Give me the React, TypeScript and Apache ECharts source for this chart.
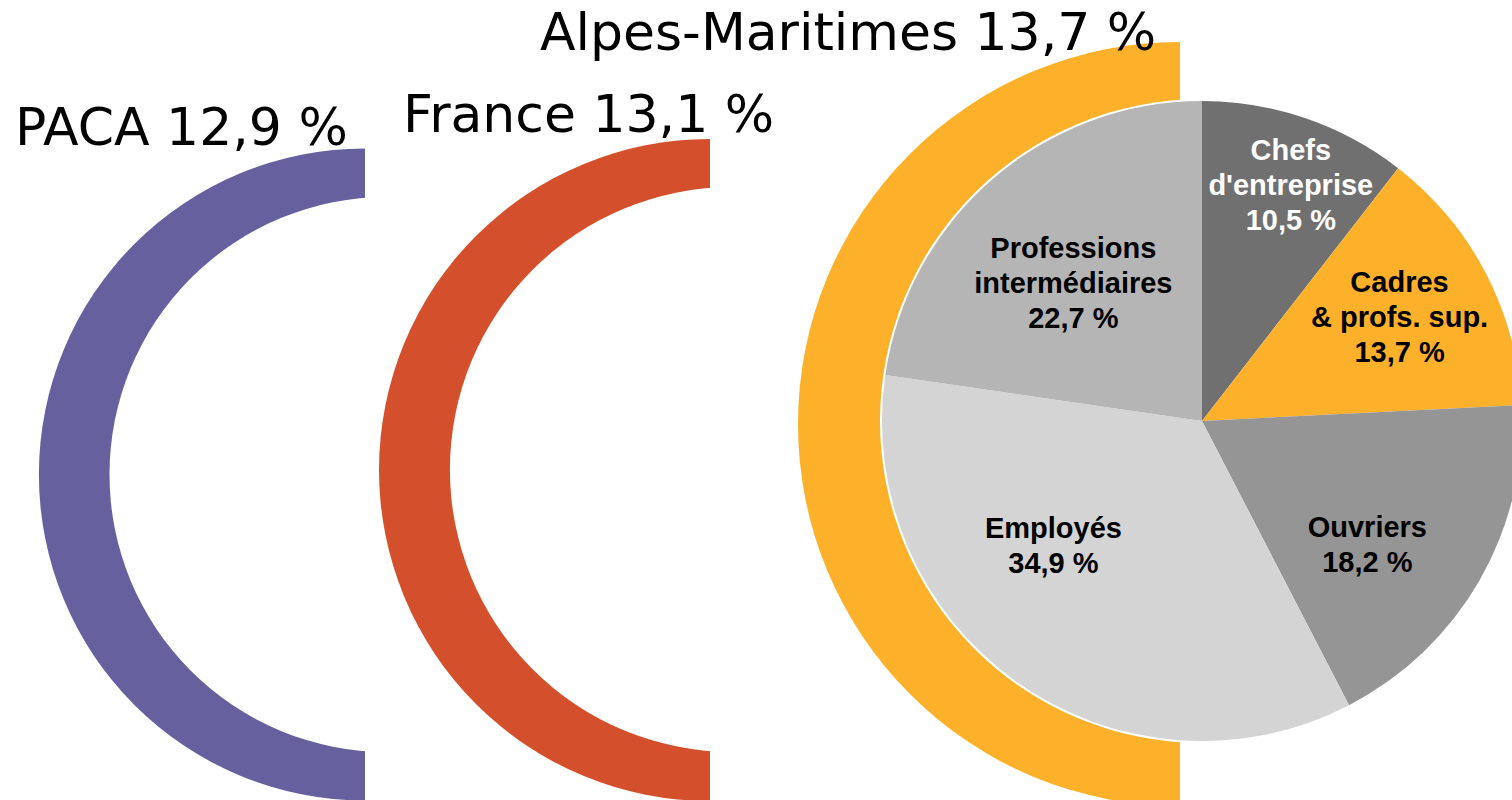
import React, { useEffect, useRef } from "react";
import * as echarts from "echarts";

// Pie: socio-professional categories, Alpes-Maritimes
const categories = ["Chefs\nd'entreprise", "Cadres\n& profs. sup.", "Ouvriers", "Employés", "Professions\nintermédiaires"];
const shares = [10.5, 13.7, 18.2, 34.9, 22.7];
const sliceColors = ["#707070", "#FDB12A", "#959595", "#D4D4D4", "#B5B5B5"];
const labelColors = ["#ffffff", "#000000", "#000000", "#000000", "#000000"];

// Half rings: share of "cadres" per territory
const regions = ["PACA", "France", "Alpes-Maritimes"];
const cadresShare = [12.9, 13.1, 13.7];
const regionColors = ["#66609E", "#D4502C", "#FDB12A"];
const halfRing = [50, 50];

const fmt = (v: number) => v.toFixed(1).replace(".", ",") + " %";

export default function App() {
  const ref = useRef<HTMLDivElement>(null);
  useEffect(() => {
    document.body.style.margin = "0";
    const chart = echarts.init(ref.current!, null, { renderer: "svg" });

    const ringGeom = [
      { c: [365, 474.5], r: 326, ic: [387, 474.5], ir: 277.5 },
      { c: [710, 470], r: 331, ic: [732.5, 469.5], ir: 282.5 },
      { c: [1180, 424], r: 382, ic: [1202, 421], ir: 322 },
    ];
    const titlePos = [
      [15, 127],
      [403, 114],
      [540, 32],
    ];
    const labelOffsets = [
      [36, -82],
      [53, -29],
      [24, 42],
      [-54, -8],
      [-22, -15],
    ];

    const series: any[] = [];
    let z = 1;
    regions.forEach((name, i) => {
      const g = ringGeom[i];
      series.push({
        type: "pie",
        name: name,
        silent: true,
        z: z++,
        center: g.c,
        radius: [0, g.r],
        startAngle: 90,
        clockwise: true,
        label: { show: false },
        labelLine: { show: false },
        emphasis: { disabled: true },
        data: halfRing.map((v, k) => ({
          value: v,
          name: name + k,
          itemStyle: { color: k === 0 ? "rgba(0,0,0,0)" : regionColors[i] },
        })),
      });
      series.push({
        type: "pie",
        silent: true,
        z: z++,
        center: g.ic,
        radius: [0, g.ir],
        startAngle: 90,
        label: { show: false },
        labelLine: { show: false },
        emphasis: { disabled: true },
        data: halfRing.map((v, k) => ({
          value: v,
          name: name + "w" + k,
          itemStyle: { color: i === 2 ? "#ffffff" : k === 0 ? "rgba(0,0,0,0)" : "#ffffff" },
        })),
      });
    });

    series.push({
      type: "pie",
      name: "Alpes-Maritimes",
      silent: true,
      z: z++,
      center: [1202, 421],
      radius: [0, 320],
      startAngle: 90,
      clockwise: true,
      emphasis: { disabled: true },
      labelLine: { show: false },
      label: {
        show: true,
        position: "inside",
        fontFamily: "Liberation Sans, Arial, sans-serif",
        fontWeight: "bold",
        fontSize: 29,
        lineHeight: 35,
        align: "center",
        formatter: (p: any) => p.name + "\n" + fmt(p.value),
      },
      labelLayout: (p: any) => {
        const o = labelOffsets[p.dataIndex];
        return { dx: o[0], dy: o[1] };
      },
      data: categories.map((c, i) => ({
        name: c,
        value: shares[i],
        itemStyle: { color: sliceColors[i] },
        label: { color: labelColors[i] },
      })),
    });

    chart.setOption({
      animation: false,
      backgroundColor: "#ffffff",
      series,
      graphic: regions.map((name, i) => ({
        type: "text",
        x: titlePos[i][0],
        y: titlePos[i][1],
        z: 100,
        style: {
          text: name + " " + fmt(cadresShare[i]),
          fontFamily: "DejaVu Sans, sans-serif",
          fontSize: 52,
          fill: "#000000",
          verticalAlign: "middle",
          align: "left",
        },
      })),
    });
    return () => chart.dispose();
  }, []);
  return (
    <div
      ref={ref}
      style={{ position: "fixed", left: 0, top: 0, width: 1512, height: 800 }}
    />
  );
}
